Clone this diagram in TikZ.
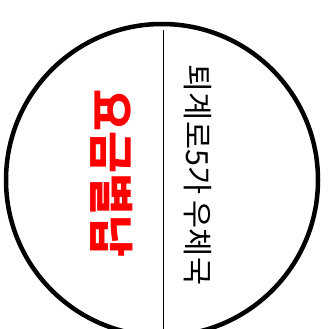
\documentclass[tikz,border=0pt]{standalone}
\usepackage{fontspec}
\newfontfamily\kr{Noto Sans CJK KR}
\tikzset{
  ring/.style={draw=black, line width=4.5pt, circle, minimum size=312pt, inner sep=0pt},
  divider/.style={draw=black, line width=1.2pt},
  redtext/.style={text=red, font=\kr\bfseries\fontsize{45.5}{45.5}\selectfont, rotate=-90, inner sep=0pt},
  blacktext/.style={text=black, font=\kr\fontsize{30.5}{30.5}\selectfont, rotate=-90, inner sep=0pt}
}
\begin{document}
\begin{tikzpicture}[x=1pt, y=-1pt]
\useasboundingbox (0,0) rectangle (328,329);
\node[ring] (stamp) at (162,180) {};
\coordinate (top) at (163.5,30);
\coordinate (bottom) at (163.5,340);
\draw[divider] (top) -- (bottom);
\node[redtext] (fee) at (111.5,173.5) {요금별납};
\node[blacktext] (office) at (198,175) {퇴계로5가 우체국};
\end{tikzpicture}
\end{document}
